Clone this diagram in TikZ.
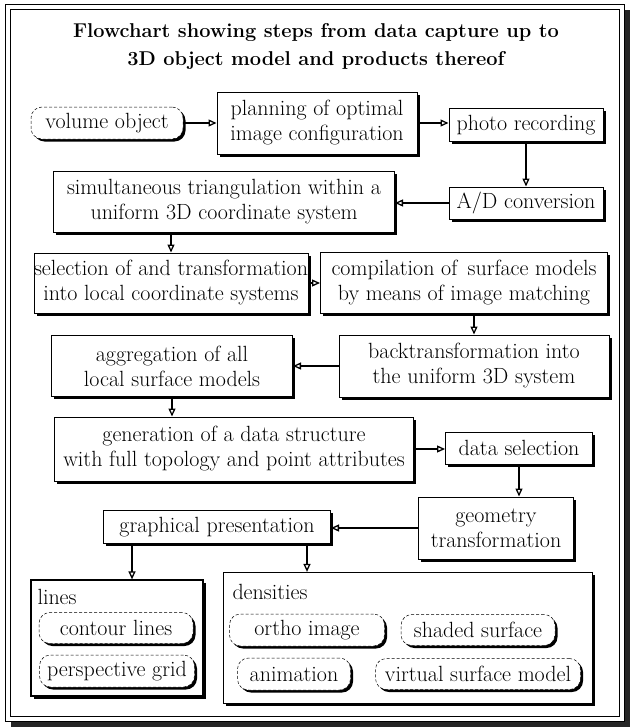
\documentclass[tikz,border=0pt]{standalone}
\usepackage{fontspec}
\usetikzlibrary{arrows.meta, shadows}
\tikzset{
  every picture/.style={line width=1pt},
  sz/.style 2 args={minimum width=#1pt, minimum height=#2pt},
  box/.style={draw, fill=white, align=center, inner sep=0pt, font=\fontsize{22}{25}\selectfont,
    drop shadow={shadow xshift=2.5pt, shadow yshift=-2.5pt, opacity=1, fill=black}},
  oval/.style={box, rounded corners=11pt, densely dashed, line width=0.5pt},
  group/.style={box, line width=1.2pt},
  arrow/.style={-{Triangle[open, length=8pt, width=7pt]}, line width=1.3pt},
  title/.style={font=\fontsize{20}{28}\selectfont\bfseries, align=center},
  note/.style={font=\fontsize{22}{25}\selectfont, anchor=base west, inner sep=0pt},
}

\begin{document}
\begin{tikzpicture}[x=1pt, y=-1pt]
  \useasboundingbox (0,0) rectangle (633,728);
  % double frame with shadow
  \fill[black!85] (11,10) rectangle (630,727);
  \draw[fill=white, line width=1pt] (5,4) rectangle (624,721);
  \draw (10,9) rectangle (619,716);

  \node[title] (title) at (316,46) {Flowchart showing steps from data capture up to\\3D object model and products thereof};

  \node[oval, sz={152}{32}] (volume) at (107,123) {volume object};
  \node[box, sz={200}{62}] (plan) at (317,123) {planning of optimal\\image configuration};
  \node[box, sz={154}{33}] (photo) at (526,125) {photo recording};
  \node[box, sz={154}{32}] (ad) at (526,203) {A/D conversion};
  \node[box, sz={341}{61}] (sim) at (224,202) {simultaneous triangulation within a\\uniform 3D coordinate system};
  \node[box, sz={274}{60}] (select) at (171,283) {selection of and transformation\\into local coordinate systems};
  \node[box, sz={287}{61}] (compile) at (464,283) {compilation of\, surface models\\by means of image matching};
  \node[box, sz={241}{61}] (aggr) at (172,366) {aggregation of all\\local surface models};
  \node[box, sz={270}{62}] (back) at (474,366) {backtransformation into\\the uniform 3D system};
  \node[box, sz={359}{64}] (gen) at (234,449) {generation of a data structure\\with full topology and point attributes};
  \node[box, sz={147}{32}] (dsel) at (519,448) {data selection};
  \node[box, sz={155}{62}] (geom) at (496,528) {geometry\\transformation};
  \node[box, sz={227}{33}] (graph) at (217,527) {graphical presentation};

  % output groups
  \node[group, sz={172}{116}] (lines) at (117,638) {};
  \node[group, sz={369}{131}] (dens) at (408,638) {};
  \node[note] (linesl) at (37,604) {lines};
  \node[note] (densl) at (232,599) {densities};
  \node[oval, sz={154}{31}] (contour) at (116,628) {contour lines};
  \node[oval, sz={155}{32}] (persp) at (117,671) {perspective grid};
  \node[oval, sz={155}{32}] (ortho) at (307,630) {ortho image};
  \node[oval, sz={154}{31}] (shaded) at (478,630) {shaded surface};
  \node[oval, sz={113}{32}] (anim) at (294,674) {animation};
  \node[oval, sz={205}{31}] (virtual) at (478,674) {virtual surface model};

  \draw[arrow] (volume) -- (plan);
  \draw[arrow] (plan.east) -- (plan.east -| photo.west);
  \draw[arrow] (photo) -- (ad);
  \draw[arrow] (ad.west) -- (ad.west -| sim.east);
  \draw[arrow] (select.north |- sim.south) -- (select.north);
  \draw[arrow] (select) -- (compile);
  \draw[arrow] (back.north |- compile.south) -- (back.north);
  \draw[arrow] (back) -- (aggr);
  \draw[arrow] (aggr) -- (aggr.south |- gen.north);
  \draw[arrow] (gen.east) -- (gen.east -| dsel.west);
  \draw[arrow] (dsel.south) -- (dsel.south |- geom.north);
  \draw[arrow] (geom.west) -- (geom.west -| graph.east);
  \draw[arrow] ([xshift=15pt]lines.north |- graph.south) -- ([xshift=15pt]lines.north);
  \draw[arrow] ([xshift=-24pt]graph.south east) -- ([xshift=-24pt]graph.south east |- dens.north);
\end{tikzpicture}
\end{document}
